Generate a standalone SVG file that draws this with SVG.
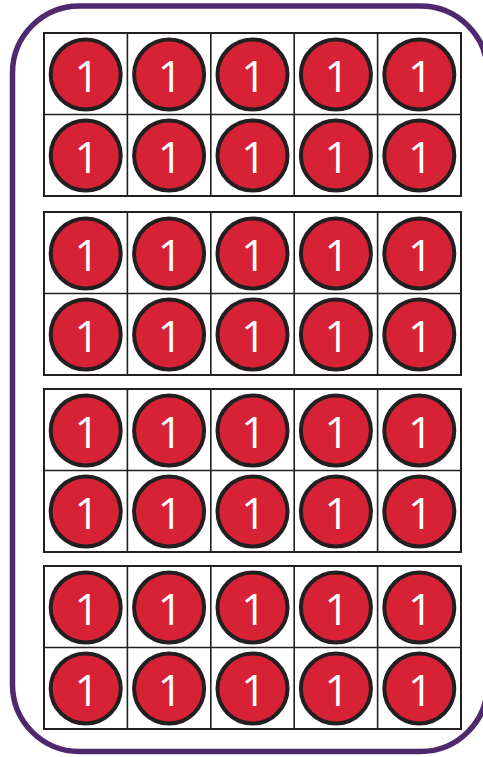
<svg xmlns="http://www.w3.org/2000/svg" xmlns:xlink="http://www.w3.org/1999/xlink" width="483" height="757" viewBox="0 0 483 757">
<style>
.border{fill:#fff;stroke:#4F286E;stroke-width:5.5}
.frame{fill:#fff;stroke:#231F20;stroke-width:2}
.grid{stroke:#231F20;stroke-width:1.6}
.ctr{fill:#D72236;stroke:#231F20;stroke-width:4}
.num{fill:#fff;font-family:"Open Sans","Lato","Liberation Sans",sans-serif;font-size:43px;font-weight:400;text-anchor:middle}
</style>
<defs>
<g id="counter">
<circle class="ctr" cx="0" cy="0" r="35"/>
<text class="num" x="1" y="17.5">1</text>
</g>
<g id="tenframe">
<rect class="frame" x="44" y="0" width="417" height="163"/>
<line class="grid" x1="44" y1="81.5" x2="461" y2="81.5"/>
<line class="grid" x1="127.4" y1="0" x2="127.4" y2="163"/>
<line class="grid" x1="210.8" y1="0" x2="210.8" y2="163"/>
<line class="grid" x1="294.2" y1="0" x2="294.2" y2="163"/>
<line class="grid" x1="377.6" y1="0" x2="377.6" y2="163"/>
<use xlink:href="#counter" x="85.7" y="41.5"/>
<use xlink:href="#counter" x="169.1" y="41.5"/>
<use xlink:href="#counter" x="252.5" y="41.5"/>
<use xlink:href="#counter" x="335.9" y="41.5"/>
<use xlink:href="#counter" x="419.3" y="41.5"/>
<use xlink:href="#counter" x="85.7" y="122.5"/>
<use xlink:href="#counter" x="169.1" y="122.5"/>
<use xlink:href="#counter" x="252.5" y="122.5"/>
<use xlink:href="#counter" x="335.9" y="122.5"/>
<use xlink:href="#counter" x="419.3" y="122.5"/>
</g>
</defs>
<g id="card">
<rect class="border" x="12.5" y="6" width="475" height="745.5" rx="67" ry="67"/>
</g>
<g id="frame1" transform="translate(0,33)"><use xlink:href="#tenframe"/></g>
<g id="frame2" transform="translate(0,212)"><use xlink:href="#tenframe"/></g>
<g id="frame3" transform="translate(0,389)"><use xlink:href="#tenframe"/></g>
<g id="frame4" transform="translate(0,566)"><use xlink:href="#tenframe"/></g>
<g id="connectors"/>
</svg>
